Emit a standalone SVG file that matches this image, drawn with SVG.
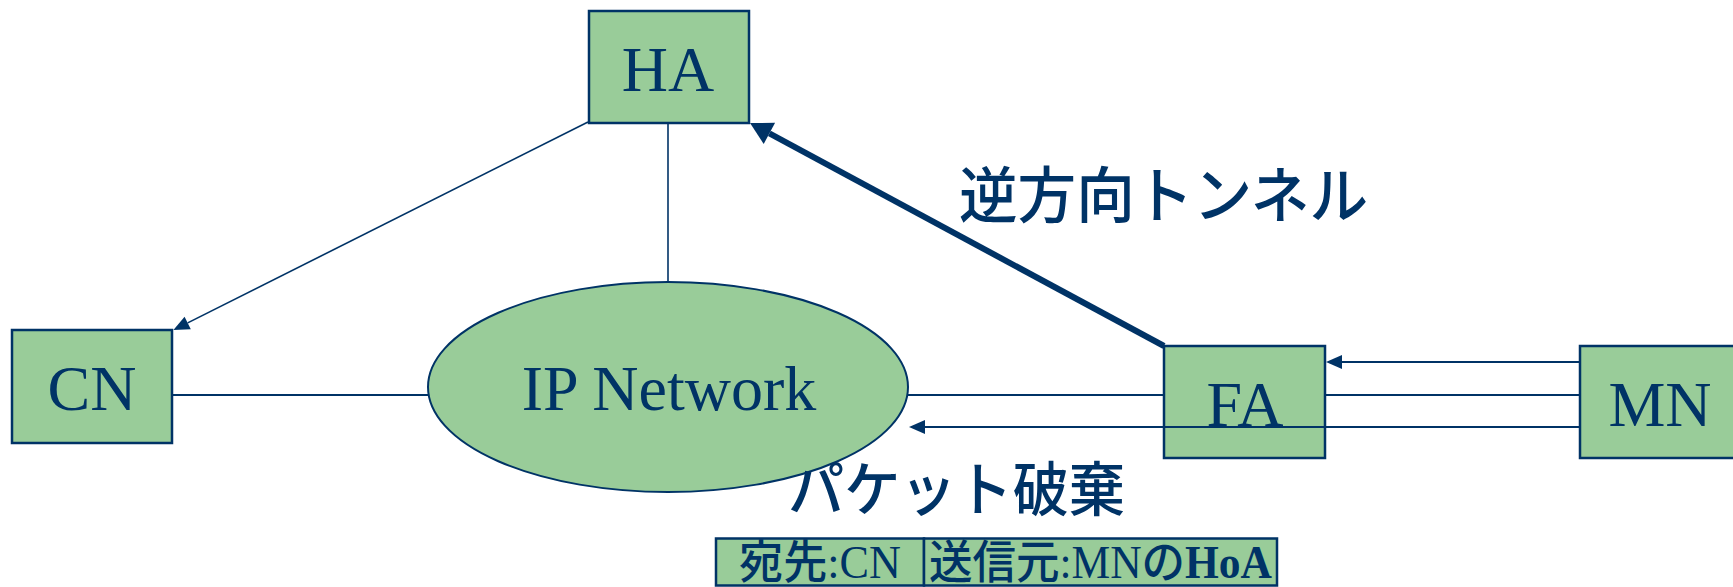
<svg xmlns="http://www.w3.org/2000/svg" width="1733" height="587" viewBox="0 0 1733 587">
<style>
.node{fill:#99CC99;stroke:#003366;stroke-width:2.5}
.lbl{font-family:"Liberation Serif","Times New Roman",serif;font-size:64px;fill:#003366;text-anchor:middle}
.jp{font-family:"Noto Sans CJK JP",sans-serif;fill:#003366;font-weight:500}
.thin{stroke:#003366;stroke-width:2;fill:none}
.hair{stroke:#003366;stroke-width:1.6;fill:none}
.thick{stroke:#003366;stroke-width:6;fill:none}
.tbl{font-size:46px}
.ser{font-family:"Liberation Serif","Times New Roman",serif;font-weight:normal}
.serb{font-family:"Liberation Serif","Times New Roman",serif;font-weight:bold}
</style>
<defs>
<marker id="ah" markerUnits="userSpaceOnUse" markerWidth="18" markerHeight="14" refX="0" refY="7" orient="auto" overflow="visible">
<path d="M0,0 L16,7 L0,14 Z" fill="#003366"/>
</marker>
<marker id="ahBig" markerUnits="userSpaceOnUse" markerWidth="24" markerHeight="24" refX="0" refY="12" orient="auto" overflow="visible">
<path d="M0,0 L22,12 L0,24 Z" fill="#003366"/>
</marker>
</defs>
<g id="HA"><rect class="node" x="589" y="11" width="160" height="112"/><text class="lbl" x="668" y="91">HA</text></g>
<g id="CN"><rect class="node" x="12" y="330" width="160" height="113"/><text class="lbl" x="92" y="410">CN</text></g>
<g id="IPNetwork"><ellipse class="node" style="stroke-width:2" cx="668" cy="387" rx="240" ry="105"/><text class="lbl" x="669" y="410">IP Network</text></g>
<g id="FA"><rect class="node" x="1164" y="346" width="161" height="112"/><text class="lbl" x="1245" y="426">FA</text></g>
<g id="MN"><rect class="node" x="1580" y="346" width="161" height="112"/><text class="lbl" x="1660" y="426">MN</text></g>
<g id="connectors">
<line class="hair" x1="588" y1="122" x2="187.7" y2="322.9" marker-end="url(#ah)"/>
<line class="hair" x1="668" y1="123" x2="668" y2="282"/>
<line class="thin" x1="172" y1="395" x2="428" y2="395"/>
<line class="thin" x1="908" y1="395" x2="1164" y2="395"/>
<line class="thin" x1="1325" y1="395" x2="1580" y2="395"/>
<line class="thin" x1="1580" y1="362" x2="1342" y2="362" marker-end="url(#ah)"/>
<line class="thin" x1="1580" y1="427" x2="925" y2="427" marker-end="url(#ah)"/>
<line class="thick" x1="1164" y1="346" x2="769.4" y2="133.4" marker-end="url(#ahBig)"/>
</g>
<g id="label-tunnel"><text class="jp" x="959" y="218" font-size="61" textLength="409" lengthAdjust="spacingAndGlyphs">逆方向トンネル</text></g>
<g id="label-discard"><text class="jp" x="788" y="511" font-size="59" textLength="337" lengthAdjust="spacingAndGlyphs">パケット破棄</text></g>
<g id="packet">
<rect class="node" x="716" y="538.5" width="208" height="47"/>
<rect class="node" x="924" y="538.5" width="353" height="47"/>
<text class="jp tbl" x="739" y="578" textLength="162" lengthAdjust="spacingAndGlyphs">宛先<tspan class="ser">:CN</tspan></text>
<text class="jp tbl" x="929" y="578" textLength="343" lengthAdjust="spacingAndGlyphs">送信元<tspan class="ser">:MN</tspan>の<tspan class="serb">HoA</tspan></text>
</g>
</svg>
